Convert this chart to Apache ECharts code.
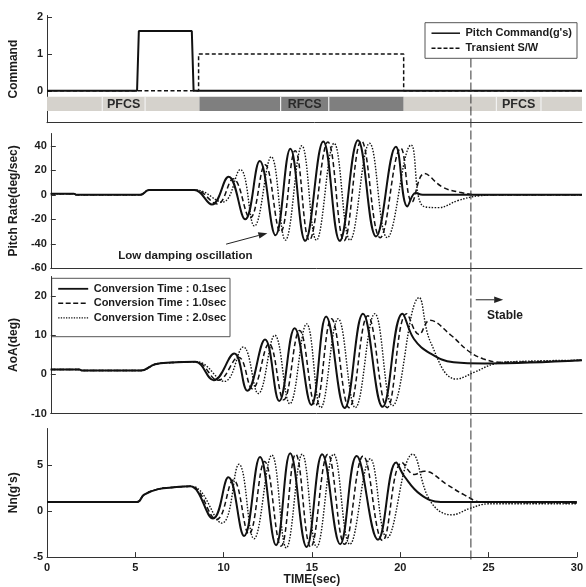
<!DOCTYPE html>
<html><head><meta charset="utf-8">
<script src="https://cdn.jsdelivr.net/npm/echarts@6/dist/echarts.min.js"></script>
<style>html,body{margin:0;padding:0;background:#fff}#c{width:586px;height:587px}</style>
</head><body><div id="c"></div>
<script>
// ---------- DATA ----------
// Panel 1: command
const cmdT = [0, 5.05, 5.15, 8.12, 8.22, 30];
const cmdV = [0, 0, 1.63, 1.63, 0, 0];
const swT = [0, 8.5, 8.5, 20.0, 20.0, 30];
const swV = [0, 0, 1, 1, 0, 0];
// control-law timeline bands
const bandStart = [0, 8.55, 20.0];
const bandEnd = [8.55, 20.0, 30];
const bandMode = [0, 1, 0];          // 0 = PFCS, 1 = RFCS
const labelStart = [3.1, 13.1, 25.2];
const labelEnd = [5.5, 15.8, 27.7];
const bandLabels = ['PFCS', 'RFCS', 'PFCS'];

// Panel 2: pitch rate (deg/sec)
const rateT1 = [0, 1.3, 1.45, 5.05, 5.55, 8.1, 9.1, 10.04, 10.98, 11.8, 12.69, 13.53, 14.37, 15.39, 16.32, 17.35, 18.37, 19.49, 20.14, 20.6, 21.0, 30];
const rateV1 = [0.8, 0.8, 0, 0, 3.8, 3.8, -8, 14.8, -20, 27.5, -33, 37.6, -37.6, 43.5, -37.6, 44.5, -34, 39.2, -9.5, 1.5, 0, 0];
const rateT2 = [0, 1.3, 1.45, 5.05, 5.55, 8.15, 9.4, 10.3, 11.25, 12.1, 12.97, 13.8, 14.6, 15.65, 16.56, 17.54, 18.6, 19.77, 20.4, 21.1, 22.1, 23.1, 24.3, 30];
const rateV2 = [0.8, 0.8, 0, 0, 3.8, 3.8, -7.5, 13, -19, 24.5, -30.5, 36, -37, 43, -37.5, 44, -35, 38, -6, 17.3, 6.5, 2.0, 0, 0];
const rateT3 = [0, 1.3, 1.45, 5.05, 5.55, 8.2, 9.7, 10.7, 11.5, 12.45, 13.25, 14.18, 15.0, 16.0, 16.9, 18.0, 19.0, 20.35, 21.0, 21.9, 23.0, 24.2, 25.5, 30];
const rateV3 = [0.8, 0.8, 0, 0, 3.8, 3.8, -6, 20.6, -25.5, 31, -37, 40, -37, 42, -37, 42, -35, 40.6, -9, -10.5, -4.7, -0.8, 0, 0];

// Panel 3: AoA (deg)
const aoaT1 = [0, 1.6, 1.75, 5.1, 5.9, 6.8, 8.15, 9.2, 10.36, 11.1, 12.1, 12.9, 13.77, 14.72, 15.55, 16.6, 17.63, 18.74, 19.86, 20.5, 21.45, 22.75, 24.5, 30];
const aoaV1 = [1.25, 1.25, 1.0, 1.0, 2.6, 3.0, 3.2, -1.5, 5.3, -4.2, 8.9, -6.8, 11.8, -7.8, 14.8, -8.6, 15.5, -8.3, 15.5, 9.1, 5.3, 3.1, 2.8, 3.6];
const aoaT2 = [0, 1.6, 1.75, 5.1, 5.9, 6.8, 8.2, 9.45, 10.6, 11.38, 12.32, 13.15, 14.05, 14.95, 15.85, 16.85, 17.9, 19.0, 20.1, 20.8, 21.4, 22.6, 23.55, 24.4, 25.5, 30];
const aoaV2 = [1.25, 1.25, 1.0, 1.0, 2.6, 3.0, 3.2, -1.5, 4.4, -3.7, 7.8, -6.5, 11.2, -8, 14.2, -8.5, 15, -8.5, 15.5, 10.2, 13.8, 10, 6.1, 4, 3.1, 3.6];
const aoaT3 = [0, 1.6, 1.75, 5.1, 5.9, 6.8, 8.25, 9.8, 10.87, 11.72, 12.65, 13.5, 14.45, 15.25, 16.23, 17.2, 18.3, 19.3, 20.8, 21.45, 22.9, 23.95, 25.07, 26.5, 30];
const aoaV3 = [1.25, 1.25, 1.0, 1.0, 2.6, 3.0, 3.2, -1.8, 7.0, -4.9, 10, -7.5, 12.9, -8.5, 14.2, -8.5, 15.5, -8, 19.6, 8.2, -1.2, 0.6, 2.7, 3.3, 3.6];

// Panel 4: Nn (g's)
const nnT1 = [0, 5.1, 5.5, 6.3, 7.2, 8.1, 9.4, 10.27, 11.16, 12.06, 12.97, 13.77, 14.7, 15.58, 16.6, 17.53, 18.74, 19.77, 20.23, 21.16, 22.3, 30];
const nnV1 = [1.0, 1.0, 1.8, 2.4, 2.6, 2.7, -0.8, 3.7, -2.7, 5.9, -3.7, 6.3, -3.9, 6.2, -3.6, 6.0, -3.1, 5.3, 3.8, 1.8, 1.0, 1.0];
const nnT2 = [0, 5.1, 5.5, 6.3, 7.2, 8.15, 9.6, 10.55, 11.43, 12.32, 13.25, 14.08, 14.93, 15.9, 16.85, 17.9, 19.0, 20.1, 20.8, 21.35, 22.65, 23.6, 24.6, 30];
const nnV2 = [1.0, 1.0, 1.8, 2.4, 2.6, 2.7, -0.9, 3.4, -2.5, 5.4, -3.8, 6.2, -3.9, 6.2, -3.6, 6.0, -3.2, 5.3, 4.0, 4.35, 2.9, 1.8, 1.0, 0.9];
const nnT3 = [0, 5.1, 5.5, 6.3, 7.2, 8.2, 9.9, 10.87, 11.72, 12.73, 13.55, 14.45, 15.27, 16.23, 17.15, 18.3, 19.25, 20.7, 21.7, 22.9, 23.95, 25.0, 30];
const nnV3 = [1.0, 1.0, 1.8, 2.4, 2.6, 2.7, -1.3, 5.1, -3.0, 6.1, -4.0, 6.2, -3.9, 6.2, -3.6, 5.7, -2.9, 6.2, 1.1, -0.4, 0.3, 0.8, 0.8];

// tick labels
const xTicks = [0, 5, 10, 15, 20, 25, 30];
const cmdTicks = [0, 1, 2];
const rateTicks = [-60, -40, -20, 0, 20, 40];
const aoaTicks = [-10, 0, 10, 20];
const nnTicks = [-5, 0, 5];
const stableTime = 24;

// ---------- STYLE / LAYOUT ----------
const FONT = '"Liberation Sans", Arial, Helvetica, sans-serif';
const INK = '#1c1c1c';
const AX = '#333';
const BAND_TOP = -0.16, BAND_BOTTOM = -0.55;
const grids = [
  {left: 44, right: 4, top: 15.5, height: 107.2},
  {left: 44, right: 4, top: 133.5, height: 134.8},
  {left: 44, right: 4, top: 276.5, height: 137},
  {left: 44, right: 4, top: 428.5, height: 130}
];
const yCfg = [
  {min: -0.87, max: 2.05, vals: cmdTicks, name: 'Command'},
  {min: -60, max: 50, vals: rateTicks, name: 'Pitch Rate(deg/sec)'},
  {min: -10, max: 25, vals: aoaTicks, name: 'AoA(deg)'},
  {min: -5, max: 9, vals: nnTicks, name: "Nn(g's)"}
];
const SOLID = {color: '#111', width: 2, type: 'solid'};
const DASHED = {color: '#111', width: 1.5, type: [5, 3]};
const DOTTED = {color: '#111', width: 1.4, type: [1.5, 1.5]};

const pairs = (T, V) => T.map((t, i) => [t, V[i]]);
function curve(name, T, V, gi, st, z) {
  return {type: 'line', name, xAxisIndex: gi, yAxisIndex: gi, data: pairs(T, V),
    showSymbol: false, symbol: 'none', smooth: 0.42, lineStyle: st, z: z, silent: true, animation: false};
}

const chart = echarts.init(document.getElementById('c'), null, {renderer: 'canvas', width: 586, height: 587});

const option = {
  animation: false,
  backgroundColor: '#fff',
  textStyle: {fontFamily: FONT, fontWeight: 'bold', color: INK},
  grid: grids,
  xAxis: grids.map((g, i) => ({
    type: 'value', gridIndex: i, min: 0, max: 30, interval: 5,
    axisLine: {show: true, onZero: false, lineStyle: {color: AX, width: 1}},
    axisTick: {show: i === 3, inside: true, length: 5, lineStyle: {color: AX}, customValues: xTicks},
    axisLabel: {show: i === 3, margin: 5, color: INK, fontSize: 11, fontWeight: 'bold', fontFamily: FONT, customValues: xTicks},
    splitLine: {show: false},
    name: i === 3 ? 'TIME(sec)' : '', nameLocation: 'middle', nameGap: 15,
    nameTextStyle: {fontSize: 12, fontWeight: 'bold', fontFamily: FONT, color: INK}
  })),
  yAxis: yCfg.map((c, i) => ({
    type: 'value', gridIndex: i, min: c.min, max: c.max,
    axisLine: {show: true, onZero: false, lineStyle: {color: AX, width: 1}},
    axisTick: {show: true, inside: true, length: 5, lineStyle: {color: AX}, customValues: c.vals},
    axisLabel: {margin: 4, color: INK, fontSize: 11, fontWeight: 'bold', fontFamily: FONT, customValues: c.vals,
      formatter: v => (c.vals.indexOf(Math.round(v * 1000) / 1000) >= 0 ? String(v) : '')},
    splitLine: {show: false},
    name: c.name, nameLocation: 'middle', nameGap: 27, nameRotate: 90,
    nameTextStyle: {fontSize: 12, fontWeight: 'bold', fontFamily: FONT, color: INK}
  })),
  series: [
    {type: 'custom', name: 'bands', xAxisIndex: 0, yAxisIndex: 0, silent: true, z: 1,
      data: bandStart.map((s, i) => [s, bandEnd[i], bandMode[i]]),
      encode: {x: [0, 1]},
      renderItem: (p, api) => {
        const a = api.coord([api.value(0), BAND_TOP]);
        const b = api.coord([api.value(1), BAND_BOTTOM]);
        return {type: 'rect', shape: {x: a[0], y: a[1], width: b[0] - a[0], height: b[1] - a[1]},
          style: {fill: api.value(2) === 1 ? '#7f7f7f' : '#d5d2cc'}};
      }},
    {type: 'custom', name: 'bandLabels', xAxisIndex: 0, yAxisIndex: 0, silent: true, z: 2,
      data: labelStart.map((s, i) => [s, labelEnd[i], i]),
      encode: {x: [0, 1]},
      renderItem: (p, api) => {
        const a = api.coord([api.value(0), BAND_TOP]);
        const b = api.coord([api.value(1), BAND_BOTTOM]);
        return {type: 'group', children: [
          {type: 'line', shape: {x1: a[0], y1: a[1], x2: a[0], y2: b[1]}, style: {stroke: '#f2f2f2', lineWidth: 1.2}},
          {type: 'line', shape: {x1: b[0], y1: a[1], x2: b[0], y2: b[1]}, style: {stroke: '#f2f2f2', lineWidth: 1.2}},
          {type: 'text', x: (a[0] + b[0]) / 2, y: (a[1] + b[1]) / 2 + 0.5,
            style: {text: bandLabels[api.value(2)], font: 'bold 12.5px ' + FONT, fill: '#2a2a2a',
              align: 'center', verticalAlign: 'middle', textAlign: 'center', textVerticalAlign: 'middle'}}
        ]};
      }},
    Object.assign(curve('Transient S/W', swT, swV, 0, {color: '#111', width: 1.5, type: [4, 2.5]}, 3), {smooth: false}),
    Object.assign(curve("Pitch Command(g's)", cmdT, cmdV, 0, {color: '#111', width: 2}, 4), {smooth: false}),
    curve('Conversion Time : 2.0sec', rateT3, rateV3, 1, DOTTED, 3),
    curve('Conversion Time : 1.0sec', rateT2, rateV2, 1, DASHED, 4),
    curve('Conversion Time : 0.1sec', rateT1, rateV1, 1, SOLID, 5),
    curve('Conversion Time : 2.0sec', aoaT3, aoaV3, 2, DOTTED, 3),
    curve('Conversion Time : 1.0sec', aoaT2, aoaV2, 2, DASHED, 4),
    curve('Conversion Time : 0.1sec', aoaT1, aoaV1, 2, SOLID, 5),
    curve('Conversion Time : 2.0sec', nnT3, nnV3, 3, DOTTED, 3),
    curve('Conversion Time : 1.0sec', nnT2, nnV2, 3, DASHED, 4),
    curve('Conversion Time : 0.1sec', nnT1, nnV1, 3, SOLID, 5)
  ]
};
chart.setOption(option);

// ---------- ANNOTATIONS ----------
const px = (gi, x, y) => chart.convertToPixel({gridIndex: gi}, [x, y]);
function txt(x, y, s, size, align) {
  return {type: 'text', x: x, y: y, z: 20, silent: true,
    style: {text: s, font: 'bold ' + size + 'px ' + FONT, fill: INK,
      align: align || 'left', verticalAlign: 'middle', textAlign: align || 'left', textVerticalAlign: 'middle'}};
}
function arrow(p0, p1) {
  const dx = p1[0] - p0[0], dy = p1[1] - p0[1];
  const L = Math.sqrt(dx * dx + dy * dy), ux = dx / L, uy = dy / L, nx = -uy, ny = ux;
  const hl = 9, hw = 3.2;
  const bx = p1[0] - ux * hl, by = p1[1] - uy * hl;
  return {type: 'group', z: 20, silent: true, children: [
    {type: 'line', shape: {x1: p0[0], y1: p0[1], x2: bx, y2: by}, style: {stroke: '#222', lineWidth: 1}},
    {type: 'polygon', shape: {points: [[p1[0], p1[1]], [bx + nx * hw, by + ny * hw], [bx - nx * hw, by - ny * hw]]},
      style: {fill: '#222'}}
  ]};
}
function legendBox(x, y, w, h, rows, dy, lineLen) {
  const ch = [{type: 'rect', shape: {x: x, y: y, width: w, height: h}, style: {fill: '#fff', stroke: '#555', lineWidth: 1}}];
  rows.forEach((r, i) => {
    const yy = y + 10.5 + i * dy;
    ch.push({type: 'line', shape: {x1: x + 6.5, y1: yy, x2: x + 6.5 + lineLen, y2: yy},
      style: {stroke: '#111', lineWidth: r.w, lineDash: r.dash}});
    ch.push(txt(x + 12 + lineLen, yy, r.text, 11, 'left'));
  });
  return {type: 'group', z: 15, silent: true, children: ch};
}

const vx = px(3, stableTime, 0)[0];
const lowTail = px(1, 9.9, -40.3), lowHead = px(1, 12.23, -31.3), lowText = px(1, 7.6, -50.2);
const stTail = px(2, stableTime, 19.05), stHead = px(2, 25.55, 19.05), stText = px(2, 25.65, 14.9);

chart.setOption({graphic: [
  {type: 'line', z: 10, silent: true, shape: {x1: vx, y1: 58.5, x2: vx, y2: 561},
    style: {stroke: '#333', lineWidth: 1, lineDash: [9, 3]}},
  legendBox(425, 22.7, 152, 35.6, [
    {text: "Pitch Command(g's)", w: 1.5, dash: null},
    {text: 'Transient S/W', w: 1.5, dash: [4, 2]}
  ], 15, 28.5),
  legendBox(51.7, 278.3, 178.3, 58.4, [
    {text: 'Conversion Time : 0.1sec', w: 1.8, dash: null},
    {text: 'Conversion Time : 1.0sec', w: 1.4, dash: [5, 2.5]},
    {text: 'Conversion Time : 2.0sec', w: 1.3, dash: [1.3, 1.3]}
  ], 14.5, 30),
  arrow(lowTail, lowHead),
  txt(lowText[0], lowText[1], 'Low damping oscillation', 11.5, 'center'),
  arrow(stTail, stHead),
  txt(stText[0], stText[1], 'Stable', 12, 'center')
]});
</script>
</body></html>
